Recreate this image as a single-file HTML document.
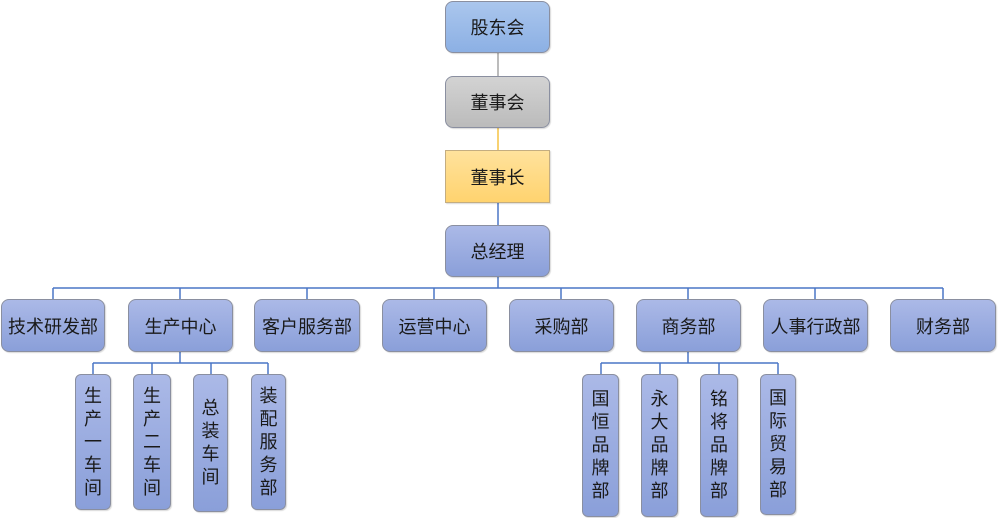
<!DOCTYPE html>
<html><head><meta charset="utf-8"><style>
html,body{margin:0;padding:0;background:#fff;}
body{width:1002px;height:518px;position:relative;overflow:hidden;font-family:"Liberation Sans","Noto Sans CJK SC",sans-serif;color:#1a1a1a;}
.b{position:absolute;box-sizing:border-box;border:1px solid #8a8fa0;border-radius:8px;display:flex;align-items:center;justify-content:center;font-size:18px;background:linear-gradient(#abb9e7,#8a9fd9);box-shadow:1px 1px 1px rgba(0,0,0,0.15);}
.v{border-radius:6px;flex-direction:column;line-height:23px;text-align:center;}
.v span{display:block;}
svg{position:absolute;left:0;top:0;}
</style></head><body>
<svg width="1002" height="518">
<line x1="498" y1="53" x2="498" y2="76" stroke="#a6a6a6" stroke-width="1.5"/>
<line x1="498" y1="128" x2="498" y2="150" stroke="#f5c242" stroke-width="1.5"/>
<g stroke="#4a76c6" stroke-width="1.5" fill="none">
<line x1="498" y1="203" x2="498" y2="225"/>
<line x1="498" y1="277" x2="498" y2="288"/>
<line x1="53" y1="288" x2="943" y2="288"/>
<line x1="53" y1="288" x2="53" y2="299"/>
<line x1="180" y1="288" x2="180" y2="299"/>
<line x1="307" y1="288" x2="307" y2="299"/>
<line x1="434" y1="288" x2="434" y2="299"/>
<line x1="561" y1="288" x2="561" y2="299"/>
<line x1="688" y1="288" x2="688" y2="299"/>
<line x1="815" y1="288" x2="815" y2="299"/>
<line x1="943" y1="288" x2="943" y2="299"/>
<line x1="180" y1="352" x2="180" y2="363"/>
<line x1="93" y1="363" x2="268" y2="363"/>
<line x1="93" y1="363" x2="93" y2="374"/>
<line x1="152" y1="363" x2="152" y2="374"/>
<line x1="211" y1="363" x2="211" y2="374"/>
<line x1="268" y1="363" x2="268" y2="374"/>
<line x1="688" y1="352" x2="688" y2="363"/>
<line x1="601" y1="363" x2="778" y2="363"/>
<line x1="601" y1="363" x2="601" y2="374"/>
<line x1="660" y1="363" x2="660" y2="374"/>
<line x1="719" y1="363" x2="719" y2="374"/>
<line x1="778" y1="363" x2="778" y2="374"/>
</g>
</svg>
<div class="b" style="left:445px;top:1px;width:105px;height:52px;background:linear-gradient(#aac6ed,#8cb0e4);">股东会</div>
<div class="b" style="left:445px;top:76px;width:105px;height:52px;background:linear-gradient(#d3d3d3,#bbbbbb);">董事会</div>
<div class="b" style="left:445px;top:150px;width:105px;height:53px;border-radius:0;border-color:#c4ad80;background:linear-gradient(#ffe29c,#ffd36f);">董事长</div>
<div class="b" style="left:445px;top:225px;width:105px;height:52px;">总经理</div>

<div class="b" style="left:1px;top:299px;width:104px;height:53px;">技术研发部</div>
<div class="b" style="left:128px;top:299px;width:105px;height:53px;">生产中心</div>
<div class="b" style="left:254px;top:299px;width:106px;height:53px;">客户服务部</div>
<div class="b" style="left:382px;top:299px;width:105px;height:53px;">运营中心</div>
<div class="b" style="left:509px;top:299px;width:105px;height:53px;">采购部</div>
<div class="b" style="left:636px;top:299px;width:105px;height:53px;">商务部</div>
<div class="b" style="left:763px;top:299px;width:105px;height:53px;">人事行政部</div>
<div class="b" style="left:890px;top:299px;width:106px;height:53px;">财务部</div>

<div class="b v" style="left:75px;top:374px;width:36px;height:136px;"><span>生</span><span>产</span><span>一</span><span>车</span><span>间</span></div>
<div class="b v" style="left:133px;top:374px;width:38px;height:136px;"><span>生</span><span>产</span><span>二</span><span>车</span><span>间</span></div>
<div class="b v" style="left:193px;top:374px;width:35px;height:138px;"><span>总</span><span>装</span><span>车</span><span>间</span></div>
<div class="b v" style="left:251px;top:374px;width:35px;height:136px;"><span>装</span><span>配</span><span>服</span><span>务</span><span>部</span></div>

<div class="b v" style="left:582px;top:374px;width:37px;height:143px;"><span>国</span><span>恒</span><span>品</span><span>牌</span><span>部</span></div>
<div class="b v" style="left:641px;top:374px;width:37px;height:143px;"><span>永</span><span>大</span><span>品</span><span>牌</span><span>部</span></div>
<div class="b v" style="left:700px;top:374px;width:38px;height:143px;"><span>铭</span><span>将</span><span>品</span><span>牌</span><span>部</span></div>
<div class="b v" style="left:760px;top:374px;width:36px;height:141px;"><span>国</span><span>际</span><span>贸</span><span>易</span><span>部</span></div>
</body></html>
